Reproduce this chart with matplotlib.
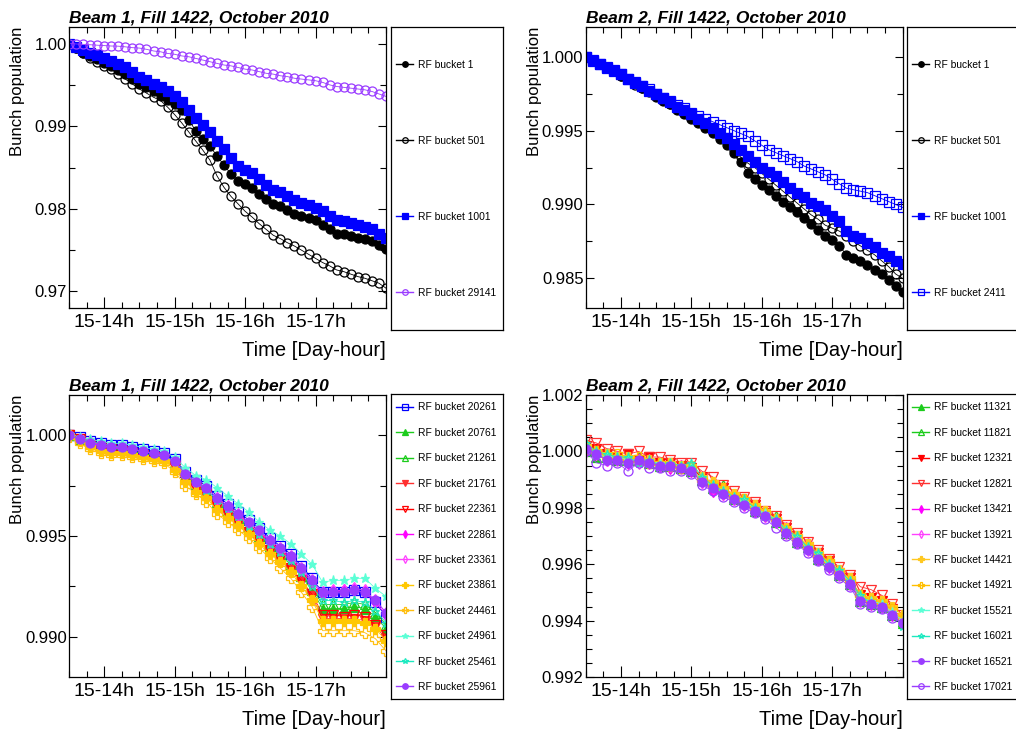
import matplotlib
matplotlib.use("Agg")
import matplotlib.pyplot as plt
from matplotlib.lines import Line2D
from matplotlib.ticker import MultipleLocator, FixedLocator

plt.rcParams["font.family"] = ["Liberation Sans", "DejaVu Sans"]

W, H = 1016, 731

# ---- time axes (hours of day 15) ----
hours_fine = [13.5, 13.6, 13.7, 13.8, 13.9, 14.0, 14.1, 14.2, 14.3, 14.4,
              14.5, 14.6, 14.7, 14.8, 14.9, 15.0, 15.1, 15.2, 15.3, 15.4,
              15.5, 15.6, 15.7, 15.8, 15.9, 16.0, 16.1, 16.2, 16.3, 16.4,
              16.5, 16.6, 16.7, 16.8, 16.9, 17.0, 17.1, 17.2, 17.3, 17.4,
              17.5, 17.6, 17.7, 17.8, 17.9, 18.0]
hours_coarse = [13.5, 13.65, 13.8, 13.95, 14.1, 14.25, 14.4, 14.55, 14.7, 14.85,
                15.0, 15.15, 15.3, 15.45, 15.6, 15.75, 15.9, 16.05, 16.2, 16.35,
                16.5, 16.65, 16.8, 16.95, 17.1, 17.25, 17.4, 17.55, 17.7, 17.85, 18.0]
hour_ticks = [14, 15, 16, 17]
hour_labels = ["15-14h", "15-15h", "15-16h", "15-17h"]

# ---- Beam 1, top panel ----
b1_top_labels = ["RF bucket 1", "RF bucket 501", "RF bucket 1001", "RF bucket 29141"]
b1_bucket1 = [1.0000, 0.9994, 0.9989, 0.9985, 0.9981, 0.9977, 0.9973, 0.9968, 0.9963, 0.9957,
              0.9951, 0.9947, 0.9942, 0.9937, 0.9932, 0.9927, 0.9919, 0.9908, 0.9894, 0.9885,
              0.9876, 0.9864, 0.9853, 0.9842, 0.9834, 0.9830, 0.9825, 0.9818, 0.9812, 0.9806,
              0.9803, 0.9799, 0.9794, 0.9791, 0.9789, 0.9786, 0.9781, 0.9776, 0.9770, 0.9769,
              0.9767, 0.9765, 0.9763, 0.9761, 0.9756, 0.9751]
b1_bucket501 = [1.0000, 0.9994, 0.9988, 0.9983, 0.9978, 0.9973, 0.9969, 0.9963, 0.9957, 0.9951,
                0.9945, 0.9940, 0.9935, 0.9931, 0.9923, 0.9914, 0.9904, 0.9893, 0.9882, 0.9871,
                0.9859, 0.9840, 0.9826, 0.9815, 0.9806, 0.9797, 0.9790, 0.9782, 0.9775, 0.9768,
                0.9764, 0.9759, 0.9755, 0.9750, 0.9745, 0.9740, 0.9735, 0.9731, 0.9726, 0.9724,
                0.9721, 0.9718, 0.9716, 0.9713, 0.9710, 0.9704]
b1_bucket1001 = [1.0000, 0.9996, 0.9992, 0.9989, 0.9986, 0.9983, 0.9979, 0.9975, 0.9971, 0.9966,
                 0.9960, 0.9956, 0.9951, 0.9947, 0.9942, 0.9936, 0.9929, 0.9920, 0.9910, 0.9902,
                 0.9893, 0.9882, 0.9872, 0.9861, 0.9852, 0.9847, 0.9843, 0.9836, 0.9829, 0.9823,
                 0.9820, 0.9816, 0.9811, 0.9807, 0.9805, 0.9801, 0.9797, 0.9791, 0.9786, 0.9785,
                 0.9783, 0.9780, 0.9778, 0.9775, 0.9770, 0.9765]
b1_bucket29141 = [1.0000, 0.99995, 0.9999, 0.99985, 0.9998, 0.99975, 0.9997, 0.99968, 0.9996, 0.9995,
                  0.99945, 0.9993, 0.9991, 0.9990, 0.9988, 0.9987, 0.9985, 0.9984, 0.9982, 0.9980,
                  0.9978, 0.9976, 0.9974, 0.9973, 0.9971, 0.9969, 0.9968, 0.9966, 0.9964, 0.9963,
                  0.9961, 0.9960, 0.9958, 0.9957, 0.9956, 0.9955, 0.9953, 0.9950, 0.9948, 0.9947,
                  0.9946, 0.9945, 0.9944, 0.9942, 0.9939, 0.9936]

# ---- Beam 2, top panel ----
b2_top_labels = ["RF bucket 1", "RF bucket 501", "RF bucket 1001", "RF bucket 2411"]
b2_bucket1 = [1.0000, 0.9997, 0.9995, 0.9993, 0.9990, 0.9987, 0.9985, 0.9982, 0.9979, 0.9976,
              0.9973, 0.9970, 0.9968, 0.9964, 0.9961, 0.9958, 0.9955, 0.9952, 0.9948, 0.9944,
              0.9940, 0.9935, 0.9929, 0.9921, 0.9917, 0.9913, 0.9910, 0.9906, 0.9902, 0.9898,
              0.9895, 0.9891, 0.9887, 0.9883, 0.9879, 0.9876, 0.9872, 0.9866, 0.9864, 0.9862,
              0.9859, 0.9856, 0.9853, 0.9849, 0.9845, 0.9841]
b2_bucket501 = [1.0000, 0.9997, 0.9995, 0.9992, 0.9990, 0.9987, 0.9985, 0.9981, 0.9979, 0.9977,
                0.9974, 0.9971, 0.9968, 0.9965, 0.9962, 0.9960, 0.9957, 0.9954, 0.9950, 0.9946,
                0.9942, 0.9937, 0.9932, 0.9928, 0.9925, 0.9921, 0.9917, 0.9913, 0.9909, 0.9905,
                0.9901, 0.9897, 0.9893, 0.9890, 0.9886, 0.9884, 0.9882, 0.9879, 0.9875, 0.9872,
                0.9869, 0.9866, 0.9862, 0.9858, 0.9853, 0.9850]
b2_bucket1001 = [1.0000, 0.9998, 0.9995, 0.9993, 0.9991, 0.9988, 0.9985, 0.9983, 0.9980, 0.9977,
                 0.9975, 0.9972, 0.9969, 0.9966, 0.9964, 0.9961, 0.9958, 0.9955, 0.9952, 0.9948,
                 0.9945, 0.9941, 0.9937, 0.9933, 0.9929, 0.9925, 0.9922, 0.9919, 0.9915, 0.9911,
                 0.9908, 0.9905, 0.9901, 0.9899, 0.9896, 0.9892, 0.9889, 0.9882, 0.9879, 0.9877,
                 0.9874, 0.9871, 0.9867, 0.9865, 0.9862, 0.9860]
b2_bucket2411 = [1.0000, 0.9997, 0.9995, 0.9992, 0.9990, 0.9988, 0.9985, 0.9982, 0.9980, 0.9978,
                 0.9975, 0.9972, 0.9970, 0.9967, 0.9965, 0.9962, 0.9960, 0.9958, 0.9956, 0.9954,
                 0.9952, 0.9950, 0.9948, 0.9946, 0.9943, 0.9940, 0.9937, 0.9935, 0.9933, 0.9931,
                 0.9929, 0.9926, 0.9924, 0.9922, 0.9920, 0.9917, 0.9914, 0.9911, 0.9910, 0.9909,
                 0.9908, 0.9906, 0.9904, 0.9902, 0.9900, 0.9898]

# ---- Beam 1, bottom panel ----
b1_bot_labels = ["RF bucket 20261", "RF bucket 20761", "RF bucket 21261", "RF bucket 21761",
                 "RF bucket 22361", "RF bucket 22861", "RF bucket 23361", "RF bucket 23861",
                 "RF bucket 24461", "RF bucket 24961", "RF bucket 25461", "RF bucket 25961"]
b1_bucket20261 = [1.0000, 0.9999, 0.9997, 0.9996, 0.9995, 0.9995, 0.9994, 0.9993, 0.9992, 0.9991,
                  0.9988, 0.9982, 0.9978, 0.9975, 0.9970, 0.9966, 0.9962, 0.9958, 0.9954, 0.9949,
                  0.9945, 0.9941, 0.9935, 0.9929, 0.9922, 0.9922, 0.9922, 0.9923, 0.9922, 0.9917, 0.9910]
b1_bucket20761 = [1.0000, 0.9998, 0.9996, 0.9994, 0.9993, 0.9993, 0.9992, 0.9991, 0.9990, 0.9989,
                  0.9985, 0.9979, 0.9975, 0.9972, 0.9966, 0.9962, 0.9958, 0.9954, 0.9950, 0.9945,
                  0.9940, 0.9936, 0.9930, 0.9923, 0.9914, 0.9914, 0.9914, 0.9915, 0.9914, 0.9910, 0.9904]
b1_bucket21261 = [1.0000, 0.9998, 0.9996, 0.9995, 0.9994, 0.9993, 0.9992, 0.9991, 0.9990, 0.9989,
                  0.9986, 0.9980, 0.9976, 0.9972, 0.9967, 0.9963, 0.9959, 0.9955, 0.9951, 0.9946,
                  0.9941, 0.9937, 0.9931, 0.9924, 0.9916, 0.9916, 0.9916, 0.9917, 0.9916, 0.9912, 0.9906]
b1_bucket21761 = [1.0000, 0.9997, 0.9995, 0.9993, 0.9992, 0.9992, 0.9991, 0.9990, 0.9989, 0.9988,
                  0.9984, 0.9978, 0.9973, 0.9970, 0.9964, 0.9960, 0.9956, 0.9951, 0.9947, 0.9942,
                  0.9938, 0.9933, 0.9927, 0.9920, 0.9909, 0.9909, 0.9909, 0.9909, 0.9908, 0.9905, 0.9899]
b1_bucket22361 = [1.0000, 0.9998, 0.9995, 0.9994, 0.9993, 0.9992, 0.9991, 0.9990, 0.9989, 0.9988,
                  0.9985, 0.9979, 0.9974, 0.9971, 0.9965, 0.9961, 0.9957, 0.9952, 0.9948, 0.9943,
                  0.9939, 0.9934, 0.9928, 0.9921, 0.9911, 0.9911, 0.9910, 0.9911, 0.9910, 0.9906, 0.9901]
b1_bucket22861 = [1.0000, 0.9998, 0.9996, 0.9995, 0.9994, 0.9993, 0.9993, 0.9992, 0.9991, 0.9990,
                  0.9986, 0.9981, 0.9976, 0.9973, 0.9968, 0.9964, 0.9960, 0.9956, 0.9952, 0.9947,
                  0.9943, 0.9939, 0.9933, 0.9927, 0.9921, 0.9922, 0.9923, 0.9923, 0.9922, 0.9917, 0.9911]
b1_bucket23361 = [1.0000, 0.9998, 0.9997, 0.9995, 0.9994, 0.9994, 0.9993, 0.9992, 0.9991, 0.9989,
                  0.9987, 0.9981, 0.9977, 0.9974, 0.9969, 0.9965, 0.9961, 0.9956, 0.9952, 0.9948,
                  0.9944, 0.9940, 0.9934, 0.9928, 0.9922, 0.9923, 0.9923, 0.9924, 0.9923, 0.9918, 0.9912]
b1_bucket23861 = [1.0000, 0.9997, 0.9994, 0.9992, 0.9991, 0.9991, 0.9990, 0.9989, 0.9988, 0.9987,
                  0.9983, 0.9977, 0.9972, 0.9969, 0.9963, 0.9959, 0.9955, 0.9951, 0.9946, 0.9941,
                  0.9937, 0.9932, 0.9925, 0.9918, 0.9908, 0.9908, 0.9908, 0.9908, 0.9907, 0.9904, 0.9898]
b1_bucket24461 = [0.9999, 0.9996, 0.9993, 0.9991, 0.9990, 0.9990, 0.9989, 0.9988, 0.9987, 0.9986,
                  0.9982, 0.9975, 0.9971, 0.9967, 0.9961, 0.9957, 0.9953, 0.9949, 0.9944, 0.9939,
                  0.9934, 0.9929, 0.9922, 0.9915, 0.9903, 0.9903, 0.9903, 0.9903, 0.9902, 0.9899, 0.9893]
b1_bucket24961 = [1.0001, 0.9999, 0.9998, 0.9997, 0.9996, 0.9996, 0.9995, 0.9994, 0.9993, 0.9992,
                  0.9989, 0.9984, 0.9980, 0.9978, 0.9974, 0.9970, 0.9966, 0.9962, 0.9957, 0.9953,
                  0.9950, 0.9946, 0.9941, 0.9936, 0.9927, 0.9928, 0.9928, 0.9929, 0.9929, 0.9924, 0.9920]
b1_bucket25461 = [1.0000, 0.9998, 0.9997, 0.9996, 0.9995, 0.9994, 0.9993, 0.9992, 0.9991, 0.9990,
                  0.9987, 0.9981, 0.9977, 0.9973, 0.9968, 0.9964, 0.9960, 0.9955, 0.9951, 0.9946,
                  0.9942, 0.9938, 0.9932, 0.9925, 0.9918, 0.9918, 0.9917, 0.9918, 0.9917, 0.9913, 0.9907]
b1_bucket25961 = [1.0000, 0.9998, 0.9996, 0.9995, 0.9994, 0.9994, 0.9993, 0.9992, 0.9991, 0.9990,
                  0.9987, 0.9981, 0.9977, 0.9974, 0.9969, 0.9965, 0.9961, 0.9957, 0.9953, 0.9948,
                  0.9944, 0.9940, 0.9934, 0.9928, 0.9922, 0.9922, 0.9922, 0.9923, 0.9922, 0.9918, 0.9912]

# ---- Beam 2, bottom panel ----
b2_bot_labels = ["RF bucket 11321", "RF bucket 11821", "RF bucket 12321", "RF bucket 12821",
                 "RF bucket 13421", "RF bucket 13921", "RF bucket 14421", "RF bucket 14921",
                 "RF bucket 15521", "RF bucket 16021", "RF bucket 16521", "RF bucket 17021"]
b2_bucket11321 = [1.0000, 0.9998, 0.9998, 0.9997, 0.9998, 0.9997, 0.9996, 0.9996, 0.9995, 0.9994,
                  0.9993, 0.9990, 0.9987, 0.9986, 0.9983, 0.9982, 0.9979, 0.9978, 0.9975, 0.9972,
                  0.9968, 0.9966, 0.9962, 0.9960, 0.9956, 0.9953, 0.9947, 0.9946, 0.9945, 0.9942, 0.9939]
b2_bucket11821 = [1.0002, 1.0000, 0.9999, 0.9998, 0.9997, 0.9998, 0.9997, 0.9995, 0.9996, 0.9994,
                  0.9995, 0.9990, 0.9989, 0.9988, 0.9984, 0.9983, 0.9980, 0.9978, 0.9977, 0.9971,
                  0.9969, 0.9967, 0.9963, 0.9961, 0.9957, 0.9954, 0.9949, 0.9947, 0.9946, 0.9943, 0.9940]
b2_bucket12321 = [1.0002, 1.0001, 0.9999, 0.9998, 0.9999, 0.9997, 0.9998, 0.9996, 0.9996, 0.9995,
                  0.9994, 0.9991, 0.9988, 0.9987, 0.9984, 0.9982, 0.9981, 0.9978, 0.9976, 0.9973,
                  0.9970, 0.9966, 0.9964, 0.9961, 0.9957, 0.9955, 0.9949, 0.9948, 0.9947, 0.9944, 0.9941]
b2_bucket12821 = [1.0004, 1.0003, 1.0001, 1.0000, 0.9999, 1.0000, 0.9998, 0.9998, 0.9997, 0.9996,
                  0.9996, 0.9993, 0.9991, 0.9988, 0.9986, 0.9984, 0.9982, 0.9979, 0.9977, 0.9974,
                  0.9971, 0.9968, 0.9965, 0.9962, 0.9959, 0.9956, 0.9952, 0.9951, 0.9949, 0.9946, 0.9942]
b2_bucket13421 = [1.0001, 0.9999, 0.9997, 0.9998, 0.9996, 0.9997, 0.9996, 0.9995, 0.9994, 0.9995,
                  0.9993, 0.9989, 0.9986, 0.9985, 0.9983, 0.9981, 0.9979, 0.9977, 0.9975, 0.9973,
                  0.9968, 0.9967, 0.9962, 0.9959, 0.9957, 0.9953, 0.9948, 0.9946, 0.9946, 0.9942, 0.9940]
b2_bucket13921 = [1.0000, 0.9999, 0.9997, 0.9997, 0.9997, 0.9996, 0.9997, 0.9995, 0.9995, 0.9994,
                  0.9994, 0.9989, 0.9987, 0.9985, 0.9983, 0.9981, 0.9980, 0.9977, 0.9975, 0.9971,
                  0.9968, 0.9965, 0.9963, 0.9960, 0.9956, 0.9953, 0.9947, 0.9947, 0.9945, 0.9943, 0.9940]
b2_bucket14421 = [1.0002, 1.0000, 0.9999, 0.9998, 0.9998, 0.9997, 0.9997, 0.9996, 0.9996, 0.9995,
                  0.9995, 0.9991, 0.9989, 0.9987, 0.9985, 0.9983, 0.9981, 0.9979, 0.9976, 0.9973,
                  0.9970, 0.9967, 0.9964, 0.9961, 0.9958, 0.9955, 0.9949, 0.9948, 0.9947, 0.9945, 0.9942]
b2_bucket14921 = [1.0001, 1.0000, 0.9998, 0.9999, 0.9997, 0.9998, 0.9996, 0.9996, 0.9995, 0.9994,
                  0.9994, 0.9990, 0.9988, 0.9987, 0.9984, 0.9983, 0.9980, 0.9978, 0.9976, 0.9972,
                  0.9969, 0.9966, 0.9963, 0.9961, 0.9957, 0.9954, 0.9949, 0.9947, 0.9946, 0.9944, 0.9941]
b2_bucket15521 = [1.0001, 0.9999, 0.9998, 0.9998, 0.9997, 0.9997, 0.9996, 0.9996, 0.9995, 0.9994,
                  0.9994, 0.9990, 0.9988, 0.9986, 0.9984, 0.9982, 0.9980, 0.9978, 0.9976, 0.9972,
                  0.9969, 0.9966, 0.9963, 0.9960, 0.9957, 0.9954, 0.9948, 0.9947, 0.9946, 0.9943, 0.9940]
b2_bucket16021 = [1.0003, 1.0000, 0.9999, 0.9998, 0.9998, 0.9996, 0.9997, 0.9995, 0.9996, 0.9995,
                  0.9996, 0.9991, 0.9988, 0.9986, 0.9984, 0.9983, 0.9980, 0.9977, 0.9976, 0.9972,
                  0.9970, 0.9966, 0.9964, 0.9960, 0.9958, 0.9954, 0.9949, 0.9946, 0.9945, 0.9942, 0.9938]
b2_bucket16521 = [1.0001, 0.9999, 0.9997, 0.9997, 0.9996, 0.9997, 0.9996, 0.9995, 0.9995, 0.9994,
                  0.9993, 0.9989, 0.9987, 0.9985, 0.9983, 0.9981, 0.9979, 0.9977, 0.9975, 0.9971,
                  0.9968, 0.9965, 0.9962, 0.9959, 0.9956, 0.9953, 0.9947, 0.9946, 0.9945, 0.9942, 0.9939]
b2_bucket17021 = [1.0000, 0.9996, 0.9995, 0.9996, 0.9993, 0.9996, 0.9994, 0.9994, 0.9993, 0.9993,
                  0.9992, 0.9988, 0.9986, 0.9984, 0.9982, 0.9980, 0.9978, 0.9976, 0.9973, 0.9970,
                  0.9967, 0.9964, 0.9961, 0.9958, 0.9955, 0.9952, 0.9946, 0.9945, 0.9944, 0.9941, 0.9939]

# ---- styles (colour, marker, filled) ----
VIOLET = "#9a3cff"
top1_styles = [("black", "o", True), ("black", "o", False), ("#0000ff", "s", True), (VIOLET, "o", False)]
top2_styles = [("black", "o", True), ("black", "o", False), ("#0000ff", "s", True), ("#0000ff", "s", False)]
bot1_styles = [("#0000ff", "s", False), ("#1ccc1c", "^", True), ("#1ccc1c", "^", False),
               ("#ff3030", "v", True), ("#ff0000", "v", False), ("#ff00ff", "d", True),
               ("#ff40ff", "d", False), ("#ffc800", "P", True), ("#ffbf10", "P", False),
               ("#5cffd6", "*", True), ("#1de9c0", "*", False), (VIOLET, "o", True)]
bot2_styles = [("#1ccc1c", "^", True), ("#1ccc1c", "^", False), ("#ff0000", "v", True),
               ("#ff3030", "v", False), ("#ff00ff", "d", True), ("#ff40ff", "d", False),
               ("#ffc820", "P", True), ("#ffbf00", "P", False), ("#5cffd6", "*", True),
               ("#1de9c0", "*", False), (VIOLET, "o", True), (VIOLET, "o", False)]


def fig_rect(left, top, right, bottom):
    return [left / W, 1 - bottom / H, (right - left) / W, (bottom - top) / H]


def style_axes(ax, title, ylim, yticks, ylabels, yminor):
    ax.set_xlim(13.5, 18.0)
    ax.set_ylim(*ylim)
    ax.xaxis.set_major_locator(FixedLocator(hour_ticks))
    ax.set_xticklabels(hour_labels)
    ax.xaxis.set_minor_locator(MultipleLocator(0.25))
    ax.yaxis.set_major_locator(FixedLocator(yticks))
    ax.set_yticklabels(ylabels)
    ax.yaxis.set_minor_locator(MultipleLocator(yminor))
    ax.tick_params(which="both", direction="in", top=True, right=True, width=0.8, colors="black")
    ax.tick_params(axis="x", which="major", length=8, labelsize=14, pad=4)
    ax.tick_params(axis="x", which="minor", length=4)
    ax.tick_params(axis="y", which="major", length=6, labelsize=12, pad=1.5)
    ax.tick_params(axis="y", which="minor", length=4)
    for sp in ax.spines.values():
        sp.set_linewidth(0.9)
    ax.set_title(title, loc="left", fontsize=12.5, fontweight="bold", fontstyle="italic", pad=3)
    ax.set_xlabel("Time [Day-hour]", fontsize=14.5, loc="right")
    ax.xaxis.set_label_coords(1.0, -33 / 281)
    ax.set_ylabel("Bunch population", fontsize=12, loc="top")
    ax.yaxis.set_label_coords(-44 / 317, 1.0)


def draw_series(ax, hours, series, styles, ms):
    handles = []
    for y, (color, marker, filled) in zip(series, styles):
        kw = dict(color=color, marker=marker, mec=color,
                  mfc=color if filled else "none", mew=0.9)
        ax.plot(hours, y, lw=0.6, ms=ms, **kw)
        handles.append(Line2D([], [], lw=1.0, ms=4, **kw))
    return handles


def draw_legend(fig, rect, handles, labels, top_pad, spacing):
    lax = fig.add_axes(fig_rect(*rect))
    lax.set_xticks([])
    lax.set_yticks([])
    for sp in lax.spines.values():
        sp.set_linewidth(0.9)
    wpx = rect[2] - rect[0]
    hpx = rect[3] - rect[1]
    lax.legend(handles, labels, loc="upper left",
               bbox_to_anchor=(5 / wpx, 1 - top_pad / hpx),
               frameon=False, borderpad=0, borderaxespad=0,
               labelspacing=spacing, handlelength=1.7, handletextpad=0.45,
               fontsize=7.4)


fig = plt.figure(figsize=(W / 100, H / 100), dpi=100)

# top-left: Beam 1
ax1 = fig.add_axes(fig_rect(69, 27, 386, 308))
h = draw_series(ax1, hours_fine, [b1_bucket1, b1_bucket501, b1_bucket1001, b1_bucket29141],
                top1_styles, 6.5)
style_axes(ax1, "Beam 1, Fill 1422, October 2010", (0.968, 1.002),
           [0.97, 0.98, 0.99, 1.00], ["0.97", "0.98", "0.99", "1.00"], 0.005)
draw_legend(fig, (391, 27, 503, 330), h, b1_top_labels, 33, 6.42)

# top-right: Beam 2
ax2 = fig.add_axes(fig_rect(585.7, 27, 902.7, 308))
h = draw_series(ax2, hours_fine, [b2_bucket1, b2_bucket501, b2_bucket1001, b2_bucket2411],
                top2_styles, 6.5)
style_axes(ax2, "Beam 2, Fill 1422, October 2010", (0.983, 1.002),
           [0.985, 0.990, 0.995, 1.000], ["0.985", "0.990", "0.995", "1.000"], 0.0025)
draw_legend(fig, (907, 27, 1030, 330), h, b2_top_labels, 33, 6.42)

# bottom-left: Beam 1
ax3 = fig.add_axes(fig_rect(69, 395, 386, 677))
h = draw_series(ax3, hours_coarse,
                [b1_bucket20261, b1_bucket20761, b1_bucket21261, b1_bucket21761,
                 b1_bucket22361, b1_bucket22861, b1_bucket23361, b1_bucket23861,
                 b1_bucket24461, b1_bucket24961, b1_bucket25461, b1_bucket25961],
                bot1_styles, 6.5)
style_axes(ax3, "Beam 1, Fill 1422, October 2010", (0.988, 1.002),
           [0.990, 0.995, 1.000], ["0.990", "0.995", "1.000"], 0.0025)
draw_legend(fig, (391, 394, 503, 699), h, b1_bot_labels, 8.5, 1.5)

# bottom-right: Beam 2
ax4 = fig.add_axes(fig_rect(585.7, 395, 902.7, 677))
h = draw_series(ax4, hours_coarse,
                [b2_bucket11321, b2_bucket11821, b2_bucket12321, b2_bucket12821,
                 b2_bucket13421, b2_bucket13921, b2_bucket14421, b2_bucket14921,
                 b2_bucket15521, b2_bucket16021, b2_bucket16521, b2_bucket17021],
                bot2_styles, 6.5)
style_axes(ax4, "Beam 2, Fill 1422, October 2010", (0.992, 1.002),
           [0.992, 0.994, 0.996, 0.998, 1.000, 1.002],
           ["0.992", "0.994", "0.996", "0.998", "1.000", "1.002"], 0.0005)
draw_legend(fig, (907, 394, 1030, 699), h, b2_bot_labels, 8.5, 1.5)

fig.savefig("out.png", dpi=100)
